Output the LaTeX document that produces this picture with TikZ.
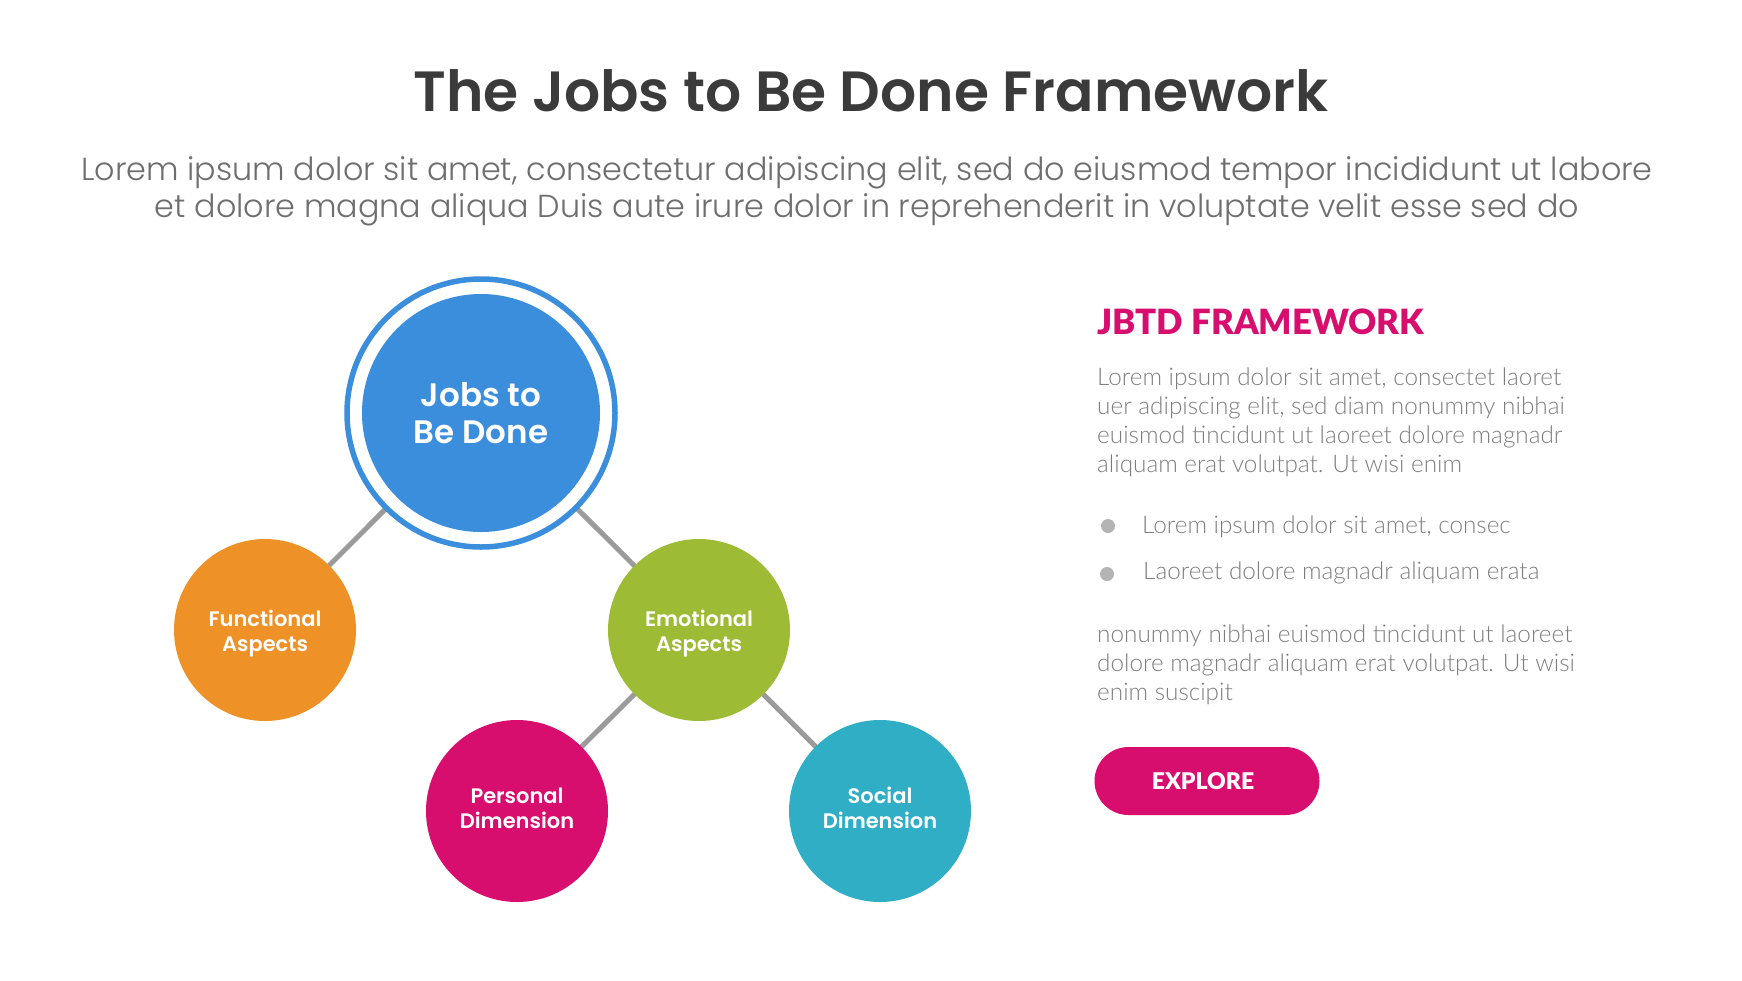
\documentclass[tikz,border=0pt]{standalone}
\usepackage{fontspec}
\setmainfont{Poppins}[BoldFont={Poppins SemiBold}]
\newfontfamily\poplight{Poppins Light}
\newfontfamily\lato{Lato Light}[BoldFont={Lato Black}]
\usetikzlibrary{backgrounds}
\definecolor{titlegray}{HTML}{3B3B3B}
\definecolor{subgray}{HTML}{6E6E6E}
\definecolor{bodygray}{HTML}{7E7E7E}
\definecolor{dotgray}{HTML}{B4B4B4}
\definecolor{linkgray}{HTML}{9B9B9B}
\definecolor{hubblue}{HTML}{3B8EDC}
\definecolor{funcorange}{HTML}{EE9126}
\definecolor{emogreen}{HTML}{9DBB34}
\definecolor{perspink}{HTML}{D80E6E}
\definecolor{socteal}{HTML}{30AEC5}
\definecolor{accent}{HTML}{D80E6E}

\begin{document}
\begin{tikzpicture}[x=1pt,y=-1pt,
  bubble/.style 2 args={circle,minimum size=182pt,inner sep=0pt,label={[bubbletext,yshift=#2]center:#1}},
  bubbletext/.style={text=white,align=center,font=\bfseries\fontsize{21}{25}\selectfont},
  link/.style={draw=linkgray,line width=5pt},
  body/.style={inner sep=0pt,align=left,text=bodygray,font=\lato\fontsize{24.3}{29}\selectfont}]
\useasboundingbox (0,0) rectangle (1742,980);
\node[anchor=base,inner sep=0pt,text=titlegray,font=\bfseries\fontsize{56.7}{62}\selectfont] (title) at (871,111) {The Jobs to Be Done Framework};
\node[anchor=base,inner sep=0pt,text=subgray,font=\poplight\fontsize{31.8}{36}\selectfont] (sub1) at (867,180) {Lorem ipsum dolor sit amet, consectetur adipiscing elit, sed do eiusmod tempor incididunt ut labore};
\node[anchor=base,inner sep=0pt,text=subgray,font=\poplight\fontsize{31.8}{36}\selectfont] (sub2) at (867,217) {et dolore magna aliqua Duis aute irure dolor in reprehenderit in voluptate velit esse sed do};

\node[circle,draw=hubblue,fill=white,line width=5.5pt,minimum size=268pt,inner sep=0pt] (ring) at (481,413) {};
\node[circle,fill=hubblue,minimum size=238pt,inner sep=0pt,text=white,align=center,font=\bfseries\fontsize{32.5}{37}\selectfont] (hub) at (481,413) {Jobs to\\Be Done};
\node[bubble={Functional\\Aspects}{-3.5pt},fill=funcorange] (func) at (265,630) {};
\node[bubble={Emotional\\Aspects}{-3.5pt},fill=emogreen] (emo) at (699,630) {};
\node[bubble={Personal\\Dimension}{3pt},fill=perspink] (pers) at (517,811) {};
\node[bubble={Social\\Dimension}{3pt},fill=socteal] (soc) at (880,811) {};
\begin{scope}[on background layer]
\draw[link] (ring.center) -- (func.center) (ring.center) -- (emo.center);
\draw[link] (emo.center) -- (pers.center) (emo.center) -- (soc.center);
\end{scope}

\node[anchor=base west,inner sep=0pt,text=accent,font=\lato\bfseries\fontsize{34.8}{38}\selectfont] (head) at (1097,334) {JBTD FRAMEWORK};
\node[body,anchor=north west] (para1) at (1097,367.3) {Lorem ipsum dolor sit amet, consectet laoret\\uer adipiscing elit, sed diam nonummy nibhai\\euismod tincidunt ut laoreet dolore magnadr\\aliquam erat volutpat. Ut wisi enim};
\fill[dotgray] (1108,526) circle (7) coordinate (dot1);
\fill[dotgray] (1107,574) circle (7) coordinate (dot2);
\node[body,anchor=base west] (item1) at (1142,533) {Lorem ipsum dolor sit amet, consec};
\node[body,anchor=base west] (item2) at (1143,579) {Laoreet dolore magnadr aliquam erata};
\node[body,anchor=north west] (para2) at (1097,625) {nonummy nibhai euismod tincidunt ut laoreet\\dolore magnadr aliquam erat volutpat. Ut wisi\\enim suscipit};
\node[fill=accent,rounded corners=34pt,minimum width=225pt,minimum height=68pt,inner sep=0pt] (explore) at (1207,781) {};
\node[text=white,inner sep=0pt,font=\lato\bfseries\fontsize{23}{26}\selectfont] (exploretext) at (1203,781) {EXPLORE};
\end{tikzpicture}
\end{document}
